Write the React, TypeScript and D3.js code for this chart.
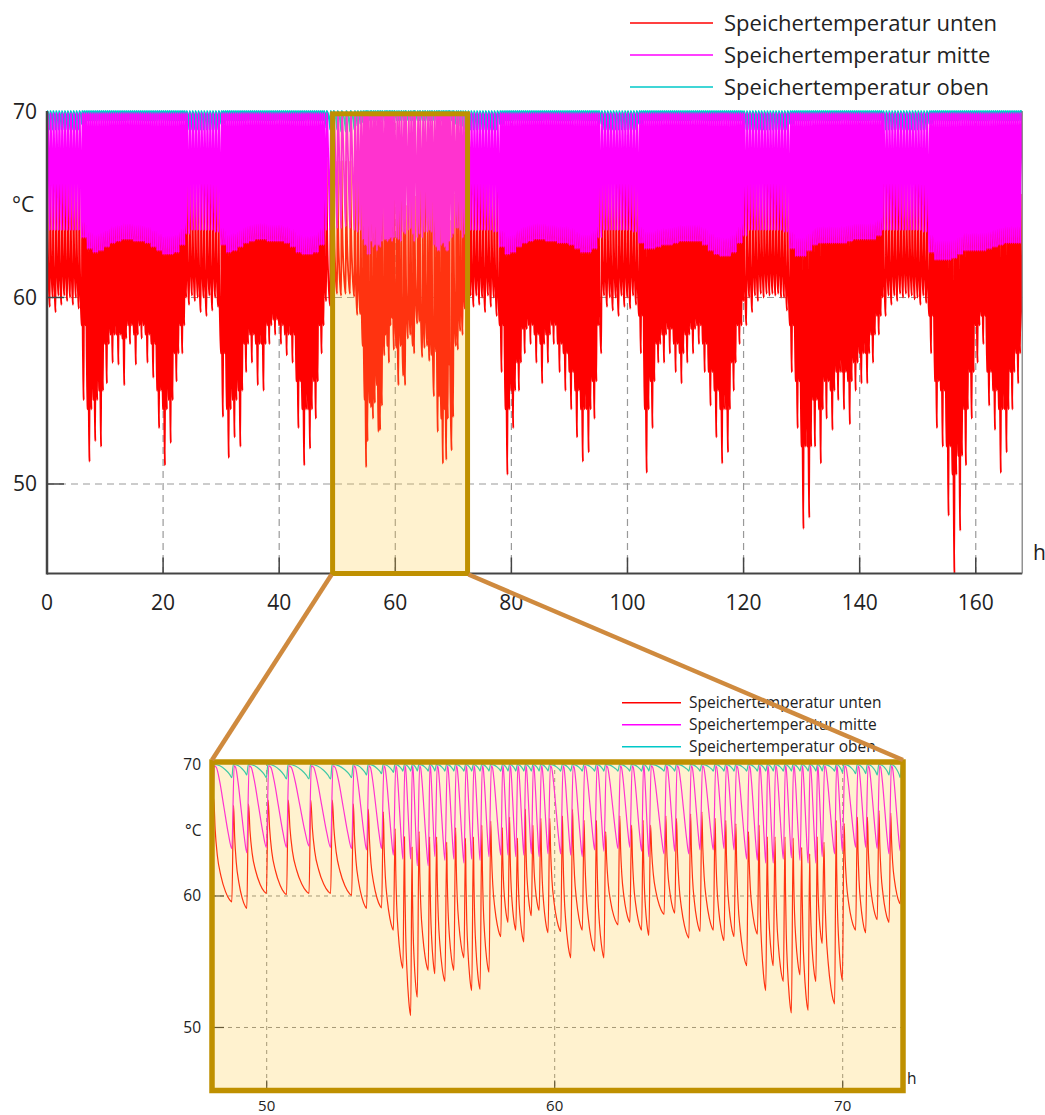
import * as d3 from 'd3'

// ---------- data ----------
const legendLabels = ['Speichertemperatur unten', 'Speichertemperatur mitte', 'Speichertemperatur oben']
const lineColors = ['#ff0000', '#ff00ff', '#00c8c8']

const topXTicks = [0, 20, 40, 60, 80, 100, 120, 140, 160]
const topYTicks = [70, 60, 50]
const zoomXTicks = [50, 60, 70]
const zoomYTicks = [70, 60, 50]

// hourly summary of the week view (null = hours 48..71, given cycle by cycle below)
const hourCycles = [
  2, 2, 2, 2, 2, 2, 3, 3, 3, 3, 3, 3, 3, 3, 3, 3, 3, 3, 3, 3, 3, 3, 3, 3,
  2, 2, 2, 2, 2, 2, 3, 3, 3, 3, 3, 3, 3, 3, 3, 3, 3, 3, 3, 3, 3, 3, 3, 3,
  null, null, null, null, null, null, null, null, null, null, null, null, null, null, null, null, null, null, null, null, null, null, null, null,
  2, 2, 2, 2, 2, 2, 3, 3, 3, 3, 3, 3, 3, 3, 3, 3, 3, 3, 3, 3, 3, 3, 3, 2,
  2, 2, 2, 2, 2, 2, 3, 3, 3, 3, 3, 3, 3, 3, 3, 3, 3, 3, 3, 3, 3, 3, 3, 3,
  2, 2, 2, 2, 2, 2, 2, 2, 3, 3, 3, 3, 3, 3, 3, 3, 3, 3, 3, 3, 3, 3, 3, 3,
  2, 2, 2, 2, 2, 2, 2, 2, 3, 3, 3, 3, 3, 3, 3, 3, 3, 3, 3, 3, 3, 3, 3, 3,
]
// deepest red dip in the hour
const hourRedMin = [
  59.5, 59.2, 59.6, 59.8, 59.6, 59.4, 54.5, 51.2, 52.3, 52.0, 55.4, 56.5, 56.4, 55.3, 57.5, 56.4, 57.8, 56.5, 55.7, 53.0, 51.0, 52.2, 55.5, 57.0,
  59.6, 59.8, 59.2, 59.0, 59.3, 59.5, 53.6, 51.4, 52.5, 52.0, 56.0, 56.5, 55.3, 55.0, 57.5, 58.0, 57.5, 56.9, 56.5, 53.0, 51.0, 51.9, 53.5, 57.0,
  null, null, null, null, null, null, null, null, null, null, null, null, null, null, null, null, null, null, null, null, null, null, null, null,
  59.3, 59.5, 59.6, 59.2, 59.5, 59.0, 56.0, 50.5, 53.0, 55.0, 57.0, 57.5, 56.5, 55.4, 56.5, 57.5, 56.0, 55.0, 54.0, 52.5, 51.2, 51.7, 53.5, 57.0,
  59.5, 59.3, 59.0, 59.5, 59.4, 59.6, 57.0, 50.6, 53.0, 56.5, 56.5, 57.0, 56.0, 55.4, 56.5, 57.0, 57.5, 56.0, 54.2, 52.5, 51.1, 51.7, 55.0, 57.5,
  58.5, 59.2, 59.8, 60.0, 60.1, 60.1, 60.0, 59.3, 56.0, 53.0, 47.6, 48.2, 52.0, 51.1, 53.5, 52.9, 54.5, 54.0, 53.2, 55.0, 55.4, 55.4, 56.5, 58.0,
  59.0, 59.6, 59.8, 60.0, 60.0, 59.9, 59.6, 59.7, 57.0, 53.0, 52.0, 48.3, 45.2, 47.5, 51.0, 53.5, 56.5, 57.5, 54.2, 52.9, 50.6, 51.7, 54.0, 55.4,
]
// typical red trough in the hour
const hourRedTyp = [
  60.0, 60.0, 60.1, 60.1, 60.0, 60.0, 58.5, 54.0, 54.5, 55.0, 57.5, 58.0, 58.0, 57.8, 58.5, 58.0, 58.5, 58.0, 57.5, 55.0, 54.0, 54.5, 57.0, 58.5,
  60.0, 60.1, 60.0, 60.0, 60.1, 60.0, 57.0, 54.0, 54.5, 55.0, 57.5, 58.0, 57.5, 57.5, 58.5, 58.8, 58.5, 58.0, 58.0, 55.5, 54.0, 54.0, 55.5, 58.5,
  null, null, null, null, null, null, null, null, null, null, null, null, null, null, null, null, null, null, null, null, null, null, null, null,
  59.4, 60.1, 60.1, 60.0, 60.1, 60.0, 58.5, 54.0, 55.0, 56.5, 58.3, 58.5, 58.0, 57.5, 58.0, 58.5, 57.5, 57.0, 56.0, 55.0, 54.0, 54.0, 55.5, 58.5,
  60.1, 60.0, 60.0, 60.1, 60.0, 60.1, 59.0, 54.0, 55.5, 57.5, 58.0, 58.3, 57.5, 57.0, 58.0, 58.3, 58.5, 57.5, 56.0, 55.0, 54.0, 54.0, 56.5, 58.5,
  59.8, 60.0, 60.1, 60.2, 60.2, 60.2, 60.2, 60.0, 58.5, 55.5, 52.0, 52.0, 54.5, 54.0, 55.5, 55.0, 56.0, 56.0, 55.5, 56.5, 57.0, 57.0, 58.0, 59.0,
  60.0, 60.1, 60.1, 60.2, 60.2, 60.1, 60.0, 60.1, 59.0, 55.5, 55.0, 52.0, 50.5, 51.5, 54.0, 56.0, 58.5, 59.0, 56.0, 55.0, 54.0, 54.0, 56.0, 57.0,
]
const hourRedPeak = [
  67.2, 67.2, 67.2, 67.2, 67.2, 67.2, 66.0, 65.5, 65.5, 65.5, 65.5, 65.5, 65.5, 65.5, 65.5, 65.5, 65.5, 65.5, 65.5, 65.5, 65.5, 65.5, 65.5, 65.5,
  67.2, 67.2, 67.2, 67.2, 67.2, 67.2, 66.0, 65.5, 65.5, 65.5, 65.5, 65.5, 65.5, 65.5, 65.5, 65.5, 65.5, 65.5, 65.5, 65.5, 65.5, 65.5, 65.5, 65.5,
  null, null, null, null, null, null, null, null, null, null, null, null, null, null, null, null, null, null, null, null, null, null, null, null,
  67.2, 67.2, 67.2, 67.2, 67.2, 67.2, 66.0, 65.5, 65.5, 65.5, 65.5, 65.5, 65.5, 65.5, 65.5, 65.5, 65.5, 65.5, 65.5, 65.5, 65.5, 65.5, 65.5, 66.0,
  67.2, 67.2, 67.2, 67.2, 67.2, 67.2, 66.0, 65.5, 65.5, 65.5, 65.5, 65.5, 65.5, 65.5, 65.5, 65.5, 65.5, 65.5, 65.5, 65.5, 65.5, 65.5, 65.5, 65.5,
  67.2, 67.2, 67.2, 67.2, 67.2, 67.2, 67.2, 67.2, 66.0, 65.5, 65.5, 65.5, 65.5, 65.5, 65.5, 65.5, 65.5, 65.5, 65.5, 65.5, 65.5, 65.5, 65.5, 65.5,
  67.2, 67.2, 67.2, 67.2, 67.2, 67.2, 67.2, 67.2, 66.0, 65.5, 65.5, 65.5, 65.5, 65.5, 65.5, 65.5, 65.5, 65.5, 65.5, 65.5, 65.5, 65.5, 65.5, 65.5,
]
const hourMidLow = [
  63.6, 63.6, 63.6, 63.6, 63.6, 63.6, 63.2, 62.6, 62.4, 62.5, 62.7, 62.9, 63.0, 63.1, 63.1, 63.0, 63.0, 62.9, 62.7, 62.5, 62.3, 62.3, 62.4, 62.8,
  63.4, 63.6, 63.6, 63.6, 63.6, 63.5, 62.8, 62.4, 62.5, 62.7, 62.9, 63.0, 63.1, 63.1, 63.0, 63.0, 63.0, 62.9, 62.7, 62.4, 62.3, 62.3, 62.4, 62.8,
  null, null, null, null, null, null, null, null, null, null, null, null, null, null, null, null, null, null, null, null, null, null, null, null,
  63.4, 63.6, 63.6, 63.6, 63.6, 63.5, 62.7, 62.3, 62.4, 62.7, 62.9, 63.0, 63.1, 63.1, 63.0, 63.0, 62.9, 62.9, 62.8, 62.6, 62.4, 62.4, 62.6, 63.2,
  63.6, 63.6, 63.6, 63.6, 63.6, 63.5, 62.9, 62.6, 62.6, 62.7, 62.8, 62.8, 62.9, 63.0, 63.0, 63.0, 63.0, 62.8, 62.5, 62.3, 62.2, 62.2, 62.4, 62.9,
  63.3, 63.6, 63.6, 63.6, 63.6, 63.6, 63.6, 63.5, 62.6, 62.2, 62.2, 62.5, 62.8, 62.9, 62.9, 62.9, 62.9, 62.9, 63.0, 63.1, 63.1, 63.1, 63.1, 63.3,
  63.6, 63.6, 63.6, 63.6, 63.6, 63.6, 63.6, 63.5, 62.4, 62.0, 62.0, 62.0, 62.1, 62.3, 62.5, 62.5, 62.5, 62.5, 62.6, 62.7, 62.8, 62.9, 62.9, 62.9,
]
const hourTopLow = [
  69.0, 69.0, 69.0, 69.0, 69.0, 69.0, 69.3, 69.5, 69.5, 69.5, 69.5, 69.5, 69.5, 69.5, 69.5, 69.5, 69.5, 69.5, 69.5, 69.5, 69.5, 69.5, 69.5, 69.5,
  69.0, 69.0, 69.0, 69.0, 69.0, 69.0, 69.3, 69.5, 69.5, 69.5, 69.5, 69.5, 69.5, 69.5, 69.5, 69.5, 69.5, 69.5, 69.5, 69.5, 69.5, 69.5, 69.5, 69.5,
  null, null, null, null, null, null, null, null, null, null, null, null, null, null, null, null, null, null, null, null, null, null, null, null,
  69.0, 69.0, 69.0, 69.0, 69.0, 69.0, 69.3, 69.5, 69.5, 69.5, 69.5, 69.5, 69.5, 69.5, 69.5, 69.5, 69.5, 69.5, 69.5, 69.5, 69.5, 69.5, 69.5, 69.3,
  69.0, 69.0, 69.0, 69.0, 69.0, 69.0, 69.3, 69.5, 69.5, 69.5, 69.5, 69.5, 69.5, 69.5, 69.5, 69.5, 69.5, 69.5, 69.5, 69.5, 69.5, 69.5, 69.5, 69.5,
  69.0, 69.0, 69.0, 69.0, 69.0, 69.0, 69.0, 69.0, 69.3, 69.5, 69.5, 69.5, 69.5, 69.5, 69.5, 69.5, 69.5, 69.5, 69.5, 69.5, 69.5, 69.5, 69.5, 69.5,
  69.0, 69.0, 69.0, 69.0, 69.0, 69.0, 69.0, 69.0, 69.3, 69.5, 69.5, 69.5, 69.5, 69.5, 69.5, 69.5, 69.5, 69.5, 69.5, 69.5, 69.5, 69.5, 69.5, 69.5,
]

// 48..72 h, cycle by cycle
const zoomT = [
  48.10, 48.79, 49.31, 49.99, 50.69, 51.47, 52.22, 52.95, 53.47, 53.99, 54.40, 54.73, 55.00, 55.23, 55.61, 55.84,
  56.19, 56.50, 56.85, 57.12, 57.41, 57.72, 58.13, 58.38, 58.65, 58.93, 59.19, 59.46, 59.77, 60.21, 60.56, 60.96,
  61.39, 61.71, 62.20, 62.61, 63.02, 63.27, 63.80, 64.17, 64.66, 65.05, 65.51, 65.88, 66.23, 66.67, 67.04, 67.33,
  67.59, 67.94, 68.22, 68.52, 68.80, 69.07, 69.29, 69.72, 69.99, 70.45, 70.80, 71.20, 71.61,
]
const zoomRedLow = [
  59.8, 59.55, 59.06, 60.2, 60.1, 60.2, 60.2, 60.05, 59.06, 59.1, 57.4, 54.5, 50.9, 52.3, 54.35, 54.1,
  53.5, 54.35, 55.3, 52.8, 52.9, 54.2, 56.9, 58.0, 57.4, 56.5, 58.5, 58.9, 57.2, 57.3, 55.3, 57.4,
  55.8, 55.3, 57.8, 58.0, 57.4, 57.0, 58.6, 58.7, 56.8, 57.3, 57.4, 56.6, 56.9, 54.7, 57.1, 52.8,
  54.7, 53.5, 51.1, 54.0, 51.3, 53.5, 56.4, 51.8, 53.6, 57.4, 57.2, 58.2, 58.0,
]
const zoomRedPeak = [
  67.4, 66.9, 67.0, 67.3, 67.3, 67.3, 67.3, 67.0, 66.6, 66.4, 65.1, 64.5, 63.7, 64.9, 64.5, 64.5,
  64.1, 65.2, 64.4, 64.5, 65.4, 65.7, 65.2, 66.0, 64.4, 66.6, 65.4, 65.9, 65.9, 66.1, 66.6, 65.75,
  65.75, 64.9, 66.1, 65.4, 65.75, 65.4, 66.1, 65.9, 66.25, 66.4, 65.9, 65.75, 65.5, 64.9, 65.4, 64.5,
  64.5, 64.5, 64.4, 63.7, 63.2, 64.5, 64.1, 65.75, 65.5, 66.0, 66.0, 66.5, 66.3,
]
const zoomMidLow = [
  63.6, 63.6, 63.3, 63.7, 63.7, 63.8, 63.7, 63.6, 63.5, 63.6, 63.1, 62.8, 62.8, 62.3, 62.3, 63.0,
  62.7, 62.8, 62.5, 62.8, 62.7, 63.0, 63.1, 63.1, 63.0, 63.1, 63.2, 63.0, 63.2, 63.2, 63.1, 63.0,
  63.5, 63.4, 63.6, 63.7, 63.4, 63.0, 63.2, 63.4, 63.2, 63.5, 63.5, 63.6, 63.5, 62.8, 62.7, 62.5,
  62.5, 62.8, 62.9, 62.7, 62.5, 62.5, 63.0, 63.2, 63.4, 63.7, 63.7, 63.6, 63.2,
]
const zoomTopLow = [
  69.1, 69.0, 69.2, 69.0, 68.9, 68.9, 68.9, 69.0, 69.2, 69.3, 69.4, 69.5, 69.5, 69.5, 69.5, 69.5,
  69.5, 69.5, 69.5, 69.5, 69.5, 69.5, 69.5, 69.5, 69.5, 69.5, 69.5, 69.5, 69.5, 69.5, 69.5, 69.5,
  69.5, 69.5, 69.5, 69.5, 69.5, 69.5, 69.5, 69.5, 69.5, 69.5, 69.5, 69.5, 69.5, 69.5, 69.5, 69.5,
  69.5, 69.5, 69.5, 69.5, 69.5, 69.5, 69.5, 69.5, 69.4, 69.3, 69.3, 69.2, 69.2,
]
const midPeak = 69.9
const topPeak = 70

// shape of one cycle (share of the cycle / share of the swing)
const redDecayAt = [0.08, 0.2, 0.4, 0.65, 0.88]
const redDecayLeft = [0.7, 0.45, 0.25, 0.1, 0.02]
const midDropAt = [0.12, 0.3, 0.55, 0.8]
const midDropDone = [0.02, 0.18, 0.5, 0.82]
const topDropAt = [0.35, 0.65, 0.88]
const topDropDone = [0.1, 0.4, 0.75]

// ---------- cycles -> points ----------
interface Cycle { t: number; redLow: number; redPeak: number; midLow: number; topLow: number }

function buildCycles(): Cycle[] {
  const out: Cycle[] = []
  hourCycles.forEach((n, h) => {
    if (n == null) return
    for (let k = 0; k < n; k++) {
      out.push({
        t: h + k / n,
        redLow: k === Math.floor(n / 2) ? hourRedMin[h]! : hourRedTyp[h]!,
        redPeak: hourRedPeak[h]!,
        midLow: hourMidLow[h]!,
        topLow: hourTopLow[h]!,
      })
    }
  })
  zoomT.forEach((t, i) => {
    out.push({ t, redLow: zoomRedLow[i], redPeak: zoomRedPeak[i], midLow: zoomMidLow[i], topLow: zoomTopLow[i] })
  })
  return out.sort((a, b) => a.t - b.t)
}

const cycles = buildCycles()

function redPoints() {
  const pts: [number, number][] = []
  cycles.forEach((c, i) => {
    const next = cycles[i + 1]
    const end = next ? next.t : 168.4
    const endLow = next ? next.redLow : c.redLow
    const d = end - c.t
    const r = Math.min(0.06, d * 0.2)
    pts.push([c.t, c.redLow], [c.t + r, c.redPeak])
    redDecayAt.forEach((s, j) => pts.push([c.t + r + s * (d - r), endLow + redDecayLeft[j] * (c.redPeak - endLow)]))
  })
  return pts
}

function dropPoints(key: 'midLow' | 'topLow', peak: number, rise: number, at: number[], done: number[]) {
  const pts: [number, number][] = []
  cycles.forEach((c, i) => {
    const next = cycles[i + 1]
    const end = next ? next.t : 168.4
    const endLow = next ? next[key] : c[key]
    const d = end - c.t
    const r = Math.min(rise, d * 0.25)
    pts.push([c.t, c[key]], [c.t + r, peak])
    at.forEach((s, j) => pts.push([c.t + r + s * (d - r), peak - done[j] * (peak - endLow)]))
  })
  return pts
}

const seriesPts = [
  redPoints(),
  dropPoints('midLow', midPeak, 0.08, midDropAt, midDropDone),
  dropPoints('topLow', topPeak, 0.05, topDropAt, topDropDone),
]
// unten first, then oben, mitte on top
const drawOrder = [0, 2, 1]

// ---------- layout ----------
const FONT = '"Open Sans", "Noto Sans", sans-serif'
const TXT = '#222'
const GOLD = '#bf9000'
const LINK = '#cf8a3e'
const TINT = 'rgba(255, 202, 65, 0.25)'

const xTop = d3.scaleLinear().domain([0, 168]).range([47, 1022.2])
const yTop = d3.scaleLinear().domain([45.2, 70]).range([573.5, 111])
const xZoom = d3.scaleLinear().domain([48, 72]).range([209.1, 900.3])
const yZoom = d3.scaleLinear().domain([45.2, 70]).range([1090.6, 764.5])

const topLine = d3.line<[number, number]>().x(d => xTop(d[0])).y(d => yTop(d[1])).curve(d3.curveMonotoneX)
const zoomLine = d3.line<[number, number]>().x(d => xZoom(d[0])).y(d => yZoom(d[1])).curve(d3.curveMonotoneX)

// highlighted window in the week view
const boxX0 = xTop(49.2)
const boxX1 = xTop(72.45)
const boxY0 = yTop(69.85)
const boxY1 = yTop(45.2)
// zoom panel frame
const zx0 = 212
const zx1 = 903
const zy0 = 762
const zy1 = 1090.5

export default function App() {
  return (
    <svg width={1045} height={1115} style={{ position: 'absolute', left: 0, top: 0, background: '#fff' }} fontFamily={FONT}>
      <defs>
        <clipPath id="clipTop">
          <rect x={xTop(0)} y={yTop(70) - 3} width={xTop(168) - xTop(0)} height={yTop(45.2) - yTop(70) + 3} />
        </clipPath>
        <clipPath id="clipZoom">
          <rect x={zx0} y={zy0} width={zx1 - zx0} height={zy1 - zy0} />
        </clipPath>
      </defs>

      {/* ===== week view ===== */}
      <g stroke="#999" strokeWidth={1.2} strokeDasharray="7,5">
        {[60, 50].map(v => (
          <line key={'h' + v} x1={xTop(0)} x2={xTop(168)} y1={yTop(v)} y2={yTop(v)} />
        ))}
        {topXTicks.filter(t => t > 0).map(t => (
          <line key={'v' + t} x1={xTop(t)} x2={xTop(t)} y1={yTop(70)} y2={yTop(45.2)} />
        ))}
      </g>
      <g clipPath="url(#clipTop)" fill="none">
        {drawOrder.map(i => (
          <path key={i} d={topLine(seriesPts[i]) || ''} stroke={lineColors[i]} strokeWidth={1.8} />
        ))}
      </g>
      <g stroke="#444">
        <line x1={xTop(0)} x2={xTop(0)} y1={yTop(70)} y2={yTop(45.2) + 1} strokeWidth={2.5} />
        <line x1={xTop(0)} x2={xTop(168)} y1={yTop(45.2)} y2={yTop(45.2)} strokeWidth={2.2} />
        <line x1={xTop(168)} x2={xTop(168)} y1={yTop(70)} y2={yTop(45.2)} strokeWidth={1.2} stroke="#777" />
        {topXTicks.filter(t => t > 0).map(t => (
          <line key={t} x1={xTop(t)} x2={xTop(t)} y1={yTop(45.2)} y2={yTop(45.2) - 16} strokeWidth={1.5} />
        ))}
        {[60, 50].map(v => (
          <line key={v} x1={xTop(0)} x2={xTop(0) + 17} y1={yTop(v)} y2={yTop(v)} strokeWidth={1.5} />
        ))}
      </g>
      <g fill={TXT} fontSize={21}>
        {topYTicks.map(v => (
          <text key={v} x={37} y={yTop(v) + 7.5} textAnchor="end">{v}</text>
        ))}
        <text x={12} y={211.5}>°C</text>
        {topXTicks.map(t => (
          <text key={t} x={xTop(t)} y={609.5} textAnchor="middle">{t}</text>
        ))}
        <text x={1033} y={560}>h</text>
      </g>
      <g fontSize={22} fill={TXT}>
        {legendLabels.map((s, i) => (
          <g key={s}>
            <line x1={630} x2={713} y1={23 + i * 32} y2={23 + i * 32} stroke={lineColors[i]} strokeWidth={1.5} />
            <text x={724} y={30.7 + i * 32}>{s}</text>
          </g>
        ))}
      </g>
      <rect x={boxX0} y={boxY0} width={boxX1 - boxX0} height={boxY1 - boxY0} fill={TINT} stroke={GOLD} strokeWidth={5} />

      {/* ===== zoom panel ===== */}
      <rect x={zx0} y={zy0} width={zx1 - zx0} height={zy1 - zy0} fill="#fff" />
      <g stroke="#888" strokeWidth={1} strokeDasharray="4,4">
        {[60, 50].map(v => (
          <line key={'h' + v} x1={zx0} x2={zx1} y1={yZoom(v)} y2={yZoom(v)} />
        ))}
        {zoomXTicks.map(t => (
          <line key={'v' + t} x1={xZoom(t)} x2={xZoom(t)} y1={zy0} y2={zy1} />
        ))}
      </g>
      <g clipPath="url(#clipZoom)" fill="none">
        {drawOrder.map(i => (
          <path key={i} d={zoomLine(seriesPts[i]) || ''} stroke={lineColors[i]} strokeWidth={1.2} />
        ))}
      </g>
      <g stroke="#333" strokeWidth={1.2}>
        {zoomXTicks.map(t => (
          <line key={t} x1={xZoom(t)} x2={xZoom(t)} y1={zy1} y2={zy1 - 10} />
        ))}
        {[60, 50].map(v => (
          <line key={v} x1={zx0} x2={zx0 + 12} y1={yZoom(v)} y2={yZoom(v)} />
        ))}
      </g>
      <rect x={zx0} y={zy0} width={zx1 - zx0} height={zy1 - zy0} fill={TINT} stroke={GOLD} strokeWidth={5.5} />
      <g fill={TXT} fontSize={15.5}>
        {zoomYTicks.map(v => (
          <text key={v} x={201} y={yZoom(v) + 5.5} textAnchor="end">{v}</text>
        ))}
        <text x={185} y={835.5}>°C</text>
        {zoomXTicks.map(t => (
          <text key={t} x={xZoom(t)} y={1110.5} fontSize={15} textAnchor="middle">{t}</text>
        ))}
        <text x={907} y={1084}>h</text>
      </g>
      <g fontSize={15.5} fill={TXT}>
        {legendLabels.map((s, i) => (
          <g key={s}>
            <line x1={622} x2={681} y1={702.7 + i * 22} y2={702.7 + i * 22} stroke={lineColors[i]} strokeWidth={1.5} />
            <text x={689} y={707.5 + i * 22}>{s}</text>
          </g>
        ))}
      </g>

      {/* connectors from the highlighted window to the zoom panel */}
      <g stroke={LINK} strokeWidth={4.5}>
        <line x1={boxX0 - 1} x2={zx0} y1={boxY1 + 1} y2={zy0 - 2} />
        <line x1={boxX1 + 1} x2={zx1} y1={boxY1 + 1} y2={zy0 - 2} />
      </g>
    </svg>
  )
}
